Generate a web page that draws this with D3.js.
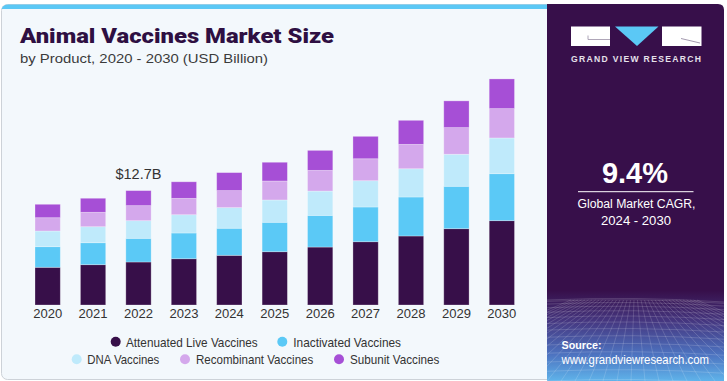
<!DOCTYPE html>
<html><head><meta charset="utf-8">
<script src="https://cdn.jsdelivr.net/npm/d3@7"></script>
<style>html,body{margin:0;padding:0;background:#fff;}svg{display:block;}</style>
</head><body>
<svg id="c" width="727" height="381"></svg>
<script>
const years = ["2020","2021","2022","2023","2024","2025","2026","2027","2028","2029","2030"];
const seriesNames = ["Attenuated Live Vaccines","Inactivated Vaccines","DNA Vaccines","Recombinant Vaccines","Subunit Vaccines"];
const attenuated  = [4.19,4.48,4.78,5.14,5.52,5.92,6.44,7.03,7.67,8.48,9.37];
const inactivated = [2.29,2.44,2.63,2.86,3.01,3.27,3.52,3.86,4.33,4.71,5.22];
const dna         = [1.74,1.78,1.96,2.03,2.29,2.48,2.70,2.92,3.14,3.56,3.97];
const recombinant = [1.48,1.60,1.67,1.82,1.89,2.11,2.30,2.44,2.71,2.96,3.26];
const subunit     = [1.49,1.56,1.67,1.84,2.00,2.08,2.22,2.49,2.67,2.97,3.30];
const colors = ["#370f49","#5bc9f6","#bfeafb","#d4a8ec","#a64fd6"];
const callout = {year:"2022", label:"$12.7B"};
const cagr = "9.4%";

const svg = d3.select("#c");
const F = "'Liberation Sans', Arial, sans-serif";

// card
svg.append("rect").attr("x",1.5).attr("y",4.5).attr("width",560).attr("height",375)
  .attr("rx",6).attr("fill","#f3f8fc").attr("stroke","#cdd2d8");
// top stripe
const defs = svg.append("defs");
defs.append("clipPath").attr("id","cardClip").append("rect")
  .attr("x",1.5).attr("y",4.5).attr("width",560).attr("height",375).attr("rx",6);
svg.append("rect").attr("clip-path","url(#cardClip)").attr("x",0).attr("y",3).attr("width",560).attr("height",6)
  .attr("fill","#5bc8f5");

// right panel
defs.append("clipPath").attr("id","panelClip").append("path")
  .attr("d","M547,4 H718 Q724,4 724,10 V381 H547 Z");
const grad = defs.append("linearGradient").attr("id","pg").attr("x1",0).attr("y1",0).attr("x2",0).attr("y2",1);
grad.append("stop").attr("offset","0").attr("stop-color","#370f4a");
grad.append("stop").attr("offset","0.76").attr("stop-color","#370f4a");
grad.append("stop").attr("offset","0.84").attr("stop-color","#45367f");
grad.append("stop").attr("offset","0.93").attr("stop-color","#4d73c0");
grad.append("stop").attr("offset","1").attr("stop-color","#5fb3ea");
const panel = svg.append("g").attr("clip-path","url(#panelClip)");
panel.append("rect").attr("x",547).attr("y",4).attr("width",177).attr("height",377).attr("fill","url(#pg)");
// perspective grid
const gridG = panel.append("g").attr("stroke","#ffffff").attr("stroke-opacity",0.22).attr("stroke-width",0.7).attr("fill","none");
for (let i=0;i<14;i++){
  const yy = 300 + Math.pow(i/13,1.6)*81;
  gridG.append("path").attr("d",`M547,${yy} Q635,${yy-4} 724,${yy+2}`);
}
for (let i=-12;i<=24;i++){
  const xb = 547 + i*14;
  gridG.append("line").attr("x1",635+(xb-635)*0.25).attr("y1",300).attr("x2",xb).attr("y2",381);
}

// logo
const lg = svg.append("g");
lg.append("rect").attr("x",571).attr("y",26.5).attr("width",39).attr("height",19.5).attr("fill","#ffffff");
lg.append("path").attr("d","M588,35.5 V39.5 H610").attr("stroke","#9a8fa6").attr("stroke-width",0.8).attr("fill","none");
lg.append("path").attr("d","M615,26.5 H658.5 L637,46 Z").attr("fill","#5bc8f5");
lg.append("rect").attr("x",662).attr("y",26.5).attr("width",39.5).attr("height",19.5).attr("fill","#ffffff");
lg.append("path").attr("d","M681,38.5 L700,43").attr("stroke","#9a8fa6").attr("stroke-width",0.9).attr("fill","none");
lg.append("text").attr("x",636).attr("y",62.3).attr("text-anchor","middle")
  .attr("font-family",F).attr("font-weight","bold").attr("font-size",8.6).attr("fill","#e6e1ea")
  .attr("textLength",130).attr("lengthAdjust","spacing").text("GRAND VIEW RESEARCH");

// CAGR block
svg.append("text").attr("x",635).attr("y",182.7).attr("text-anchor","middle")
  .attr("font-family",F).attr("font-weight","bold").attr("font-size",29).attr("fill","#ffffff").text(cagr);
svg.append("line").attr("x1",578).attr("x2",693.5).attr("y1",191.7).attr("y2",191.7).attr("stroke","#ffffff").attr("stroke-width",1);
svg.append("text").attr("x",636.5).attr("y",207.5).attr("text-anchor","middle")
  .attr("font-family",F).attr("font-size",12.5).attr("fill","#ffffff")
  .attr("textLength",118).attr("lengthAdjust","spacingAndGlyphs").text("Global Market CAGR,");
svg.append("text").attr("x",636).attr("y",225).attr("text-anchor","middle")
  .attr("font-family",F).attr("font-size",12.5).attr("fill","#ffffff")
  .attr("textLength",70).attr("lengthAdjust","spacingAndGlyphs").text("2024 - 2030");
svg.append("text").attr("x",561.5).attr("y",349.3)
  .attr("font-family",F).attr("font-weight","bold").attr("font-size",11.5).attr("fill","#ffffff")
  .attr("textLength",40).attr("lengthAdjust","spacingAndGlyphs").text("Source:");
svg.append("text").attr("x",561.5).attr("y",363.5)
  .attr("font-family",F).attr("font-size",12).attr("fill","#ffffff")
  .attr("textLength",147.5).attr("lengthAdjust","spacingAndGlyphs").text("www.grandviewresearch.com");

// titles
svg.append("text").attr("x",20).attr("y",42.7)
  .attr("font-family","Roboto, 'Liberation Sans', sans-serif").attr("font-weight",900).attr("font-size",21).attr("fill","#2e0f42")
  .attr("textLength",314).attr("lengthAdjust","spacingAndGlyphs").text("Animal Vaccines Market Size");
svg.append("text").attr("x",20).attr("y",62.7)
  .attr("font-family",F).attr("font-size",13.5).attr("fill","#3b3b3b")
  .attr("textLength",248).attr("lengthAdjust","spacingAndGlyphs").text("by Product, 2020 - 2030 (USD Billion)");

// chart
const x = d3.scaleBand().domain(years).range([35,514.5]).paddingInner(0.443).paddingOuter(0);
const y = d3.scaleLinear().domain([0,14]).range([305,305-126]);
const seriesData = [attenuated,inactivated,dna,recombinant,subunit];
const table = years.map((yr,i)=>{ const o={year:yr}; seriesNames.forEach((n,k)=>o[n]=seriesData[k][i]); return o; });
const stacked = d3.stack().keys(seriesNames)(table);

svg.append("g").selectAll("g").data(stacked).join("g")
  .attr("fill",(d,i)=>colors[i])
  .selectAll("rect").data(d=>d).join("rect")
  .attr("x",d=>x(d.data.year)).attr("width",x.bandwidth())
  .attr("y",d=>y(d[1])).attr("height",d=>y(d[0])-y(d[1]))
  .attr("stroke","#ffffff").attr("stroke-opacity",0.35).attr("stroke-width",0.8);

// x axis labels
const ax = svg.append("g").attr("transform","translate(0,305)")
  .call(d3.axisBottom(x).tickSize(0).tickPadding(4));
ax.select(".domain").remove();
ax.selectAll("text").attr("font-family",F).attr("font-size",13).attr("fill","#333333").attr("dy","0.71em")
  .attr("textLength",29).attr("lengthAdjust","spacingAndGlyphs");

// callout
const tot = table.find(d=>d.year===callout.year);
const total = seriesNames.reduce((s,n)=>s+tot[n],0);
svg.append("text").attr("x",x(callout.year)+x.bandwidth()/2).attr("y",y(total)-11.5).attr("text-anchor","middle")
  .attr("font-family",F).attr("font-size",14.5).attr("fill","#333333")
  .attr("textLength",46).attr("lengthAdjust","spacingAndGlyphs").text(callout.label);

// legend
const legendLayout = [
  {cx:115.7, tx:126, w:131.7, y:341.7},
  {cx:282.3, tx:293.3, w:107.7, y:341.7},
  {cx:76.7, tx:87.3, w:72, y:359.3},
  {cx:185, tx:196, w:117.3, y:359.3},
  {cx:339, tx:350, w:89.3, y:359.3}
];
const leg = svg.append("g");
seriesNames.forEach((n,i)=>{
  const L = legendLayout[i];
  leg.append("circle").attr("cx",L.cx).attr("cy",L.y).attr("r",5).attr("fill",colors[i]);
  leg.append("text").attr("x",L.tx).attr("y",L.y+4.8).attr("font-family",F).attr("font-size",13).attr("fill","#333333")
    .attr("textLength",L.w).attr("lengthAdjust","spacingAndGlyphs").text(n);
});
</script>
</body></html>
